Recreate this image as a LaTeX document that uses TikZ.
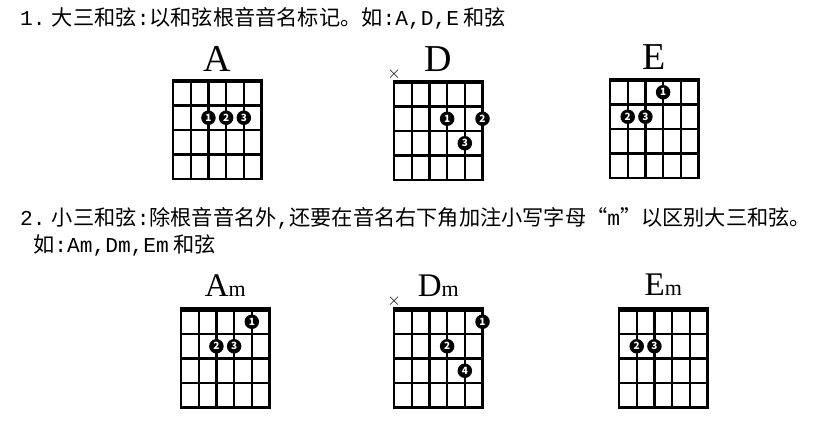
\documentclass[tikz,border=0pt]{standalone}
\usepackage{fontspec}
\setmainfont{Noto Sans CJK SC}
\newfontfamily\chordfont{Liberation Serif}
\newfontfamily\latinmono{Liberation Mono}
\newcommand{\fretgrid}{%
  \foreach \s in {1,...,4} \draw[fret] (\s,0) -- (\s,4);
  \foreach \f in {1,...,3} \draw[fret] (0,\f) -- (5,\f);
  \draw[fret] (0,0) rectangle (5,4);
  \draw[nut] (-0.06,0) -- (5.06,0);}

\begin{document}
\begin{tikzpicture}[x=1pt,y=-1pt,
  fret/.style={line width=2.2pt},
  nut/.style={line width=4.4pt},
  fing/.style={circle,fill=black,inner sep=0pt,minimum size=14.5pt,text=white,font=\bfseries\fontsize{10}{10}\selectfont},
  chordname/.style={anchor=base,font=\chordfont\fontsize{#1}{#1}\selectfont},
  mute/.style={inner sep=0pt,font=\fontsize{17}{17}\selectfont},
  line/.style={anchor=west,inner sep=0pt,font=\fontsize{21.2}{21.2}\selectfont}]
\useasboundingbox (0,0) rectangle (837,431);

\node[line] (t1) at (20,18) {{\latinmono 1.} 大三和弦{\latinmono :}以和弦根音音名标记。如{\latinmono :A,D,E} 和弦};
\node[line] (t2) at (20,218) {{\latinmono 2.} 小三和弦{\latinmono :}除根音音名外{\latinmono ,}还要在音名右下角加注小写字母“{\latinmono m}”以区别大三和弦。};
\node[line] (t3) at (33,245) {如{\latinmono :Am,Dm,Em} 和弦};

% major chords
\begin{scope}[shift={(173,81)},x=17.7pt,y=-24.5pt]
\fretgrid
\node[chordname=38] (nA) at (2.5,-0.37) {A};
\node[fing] (a1) at (2,1.5) {1};
\node[fing] (a2) at (3,1.5) {2};
\node[fing] (a3) at (4,1.5) {3};
\end{scope}

\begin{scope}[shift={(394,82)},x=17.7pt,y=-24.5pt]
\fretgrid
\node[chordname=38] (nD) at (2.5,-0.41) {D};
\node[mute] (dx) at (0,-0.33) {$\times$};
\node[fing] (d1) at (3,1.5) {1};
\node[fing] (d2) at (5,1.5) {2};
\node[fing] (d3) at (4,2.5) {3};
\end{scope}

\begin{scope}[shift={(610,80)},x=17.7pt,y=-24.5pt]
\fretgrid
\node[chordname=38] (nE) at (2.5,-0.41) {E};
\node[fing] (e1) at (3,0.5) {1};
\node[fing] (e2) at (1,1.5) {2};
\node[fing] (e3) at (2,1.5) {3};
\end{scope}

% minor chords
\begin{scope}[shift={(181,309.5)},x=17.7pt,y=-24.5pt]
\fretgrid
\node[chordname=33] (nAm) at (2.5,-0.52) {A{\fontsize{22}{22}\selectfont m}};
\node[fing] (am1) at (4,0.5) {1};
\node[fing] (am2) at (2,1.5) {2};
\node[fing] (am3) at (3,1.5) {3};
\end{scope}

\begin{scope}[shift={(394,309.5)},x=17.7pt,y=-24.5pt]
\fretgrid
\node[chordname=33] (nDm) at (2.5,-0.52) {D{\fontsize{22}{22}\selectfont m}};
\node[mute] (dmx) at (0,-0.33) {$\times$};
\node[fing] (dm1) at (5,0.5) {1};
\node[fing] (dm2) at (3,1.5) {2};
\node[fing] (dm4) at (4,2.5) {4};
\end{scope}

\begin{scope}[shift={(619,309.5)},x=17.7pt,y=-24.5pt]
\fretgrid
\node[chordname=33] (nEm) at (2.5,-0.59) {E{\fontsize{22}{22}\selectfont m}};
\node[fing] (em2) at (1,1.5) {2};
\node[fing] (em3) at (2,1.5) {3};
\end{scope}
\end{tikzpicture}
\end{document}
